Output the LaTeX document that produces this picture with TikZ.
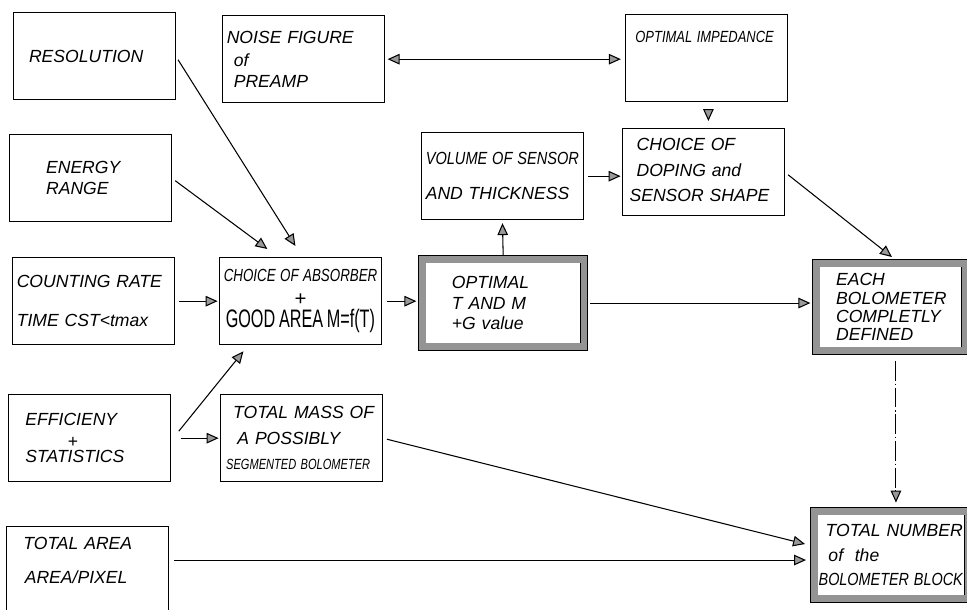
\documentclass[tikz,border=0pt]{standalone}
\usepackage{graphicx}
\usepackage{fontspec}
\setmainfont{Liberation Sans}
\usetikzlibrary{arrows.meta,calc}
\newcommand{\narrow}[2][0.8]{\scalebox{#1}[1]{#2}}

\begin{document}
\begin{tikzpicture}[x=0.25mm, y=-0.25mm,
  >={Triangle[length=8.5pt,width=7.5pt,fill=black!40]},
  box/.style={draw, line width=0.8pt, anchor=north west, inner xsep=3pt, text width=109pt,
    minimum height=21.8mm, align=left, font=\itshape\fontsize{12.5}{15}\selectfont},
  boldbox/.style={box, line width=0.6pt, double=black!42, double distance=4.5pt},
  arr/.style={->, line width=0.75pt}
]
\useasboundingbox (0,0) rectangle (967,609);
\fill[white] (0,0) rectangle (967,609);

% left column
\node[box] (res) at (13,12) {\hspace*{8pt}RESOLUTION};
\node[box] (energy) at (9,134) {\hspace*{23pt}ENERGY\\\hspace*{23pt}RANGE};
\node[box] (count) at (12,257) {COUNTING RATE\\[13pt]TIME CST<tmax};
\node[box] (eff) at (8,394) {\hspace*{9pt}EFFICIENY\\[0pt]\hspace*{39pt}+\\[-4pt]\hspace*{9pt}STATISTICS};
\node[box, minimum height=22.5mm] (area) at (6,526) {\hspace*{9pt}TOTAL AREA\\[9pt]\hspace*{10pt}AREA/PIXEL\\[1pt]\mbox{}};

% middle
\node[box] (noise) at (222,15) {NOISE FIGURE\\[1pt]\hspace*{5pt}of\\\hspace*{5pt}PREAMP};
\node[box, align=center] (absorb) at (219,257) {\narrow[0.76]{CHOICE OF ABSORBER}\\[2pt]{\Large +}\\[1pt]\narrow[0.64]{\upshape\fontsize{18}{18}\selectfont GOOD AREA M=f(T)}};
\node[box] (mass) at (220,394) {\hspace*{6pt}TOTAL MASS OF\\[3pt]\hspace*{9pt}A POSSIBLY\\[3pt]\hspace*{1pt}\narrow[0.75]{\fontsize{10.5}{12}\selectfont SEGMENTED BOLOMETER}};
\node[box] (volume) at (421,132) {\narrow[0.83]{VOLUME OF SENSOR}\\[10pt]AND THICKNESS};
\node[boldbox] (optimal) at (422,259) {\hspace*{18pt}OPTIMAL\\[-0.5pt]\hspace*{18pt}T AND M\\[-0.5pt]\hspace*{18pt}+G value};

% right
\node[box] (impd) at (625,14) {\hspace*{4pt}\narrow{\fontsize{11.5}{14}\selectfont OPTIMAL IMPEDANCE}\\[16pt]\mbox{}};
\node[box] (doping) at (622,128) {\mbox{}\\[-9pt]\hspace*{7pt}CHOICE OF\\[3pt]\hspace*{7pt}DOPING and\\[3pt]\hspace*{2pt}SENSOR SHAPE};
\node[boldbox, text width=100pt] (each) at (816,263) {\hspace*{11pt}EACH\\[-2pt]\hspace*{11pt}BOLOMETER\\[-2pt]\hspace*{11pt}COMPLETLY\\[-2pt]\hspace*{11pt}DEFINED};
\node[boldbox, text width=103pt] (totnum) at (814,511) {\hspace*{5pt}TOTAL NUMBER\\[2.5pt]\hspace*{7pt}of\ \ the\\[2.5pt]\narrow[0.82]{BOLOMETER BLOCK}};

% connectors
\draw[arr, shorten <=3pt] (res.east) -- ($(absorb.north)+(-5,-11)$);
\draw[arr, shorten <=3pt] (energy.east) -- ($(absorb.north)+(-33,-8)$);
\draw[arr, shorten <=3pt, shorten >=1pt] (count.east) -- (absorb.west);
\draw[arr, shorten <=4pt, shorten >=4pt] (absorb.east) -- (absorb.east -| optimal.west);
\draw[arr] ($(eff.east)+(8,-7)$) -- ($(absorb.south)+(-57,6)$);
\draw[arr, shorten <=7pt, shorten >=1pt] (eff.east) -- (mass.west);
\draw[arr, shorten <=3pt] (mass.east) -- ($(totnum.west)+(-9,-11)$);
\coordinate (tnin) at ($(totnum.west)+(-8,5)$);
\draw[arr, shorten <=4pt] (area.east |- tnin) -- (tnin);
\draw[<->, line width=0.75pt, shorten <=2pt, shorten >=3pt] (noise.east) -- (noise.east -| impd.west);
\draw[arr] ($(impd.south)+(2,8)$) -- ($(doping.north)+(5,-7)$);
\draw[arr, shorten <=3pt, shorten >=1pt] (volume.east) -- (volume.east -| doping.west);
\draw[arr, shorten <=3pt] (doping.east) -- ($(each.north)+(1,-6)$);
\draw[arr, shorten <=3pt, shorten >=2pt] (optimal.north) -- (volume.south);
\draw[arr, shorten <=4pt, shorten >=4pt] (optimal.east) -- (optimal.east -| each.west);
\coordinate (dtop) at ($(each.south)+(5,10)$);
\draw[arr, dash pattern=on 14pt off 2pt on 1pt off 2pt, shorten >=6pt] (dtop) -- (dtop |- totnum.north);
\end{tikzpicture}
\end{document}
